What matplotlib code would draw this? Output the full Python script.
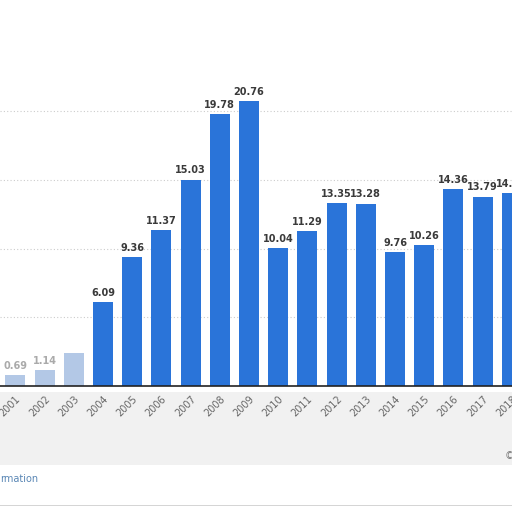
import matplotlib
matplotlib.use("Agg")
import matplotlib.pyplot as plt
from matplotlib.patches import Rectangle

years = ["2001", "2002", "2003", "2004", "2005", "2006", "2007", "2008", "2009",
         "2010", "2011", "2012", "2013", "2014", "2015", "2016", "2017", "2018"]
values = [0.77, 1.14, 2.43, 6.09, 9.36, 11.37, 15.03, 19.78, 20.76,
          10.04, 11.29, 13.35, 13.28, 9.76, 10.26, 14.36, 13.79, 14.05]
labels = ["0.69", "1.14", "", "6.09", "9.36", "11.37", "15.03", "19.78", "20.76",
          "10.04", "11.29", "13.35", "13.28", "9.76", "10.26", "14.36", "13.79", "14.05"]

W = H = 512
fig = plt.figure(figsize=(5.12, 5.12), dpi=100)
fig.patch.set_facecolor("white")

# light grey haze below the axis
fig.patches.append(Rectangle((0, (512 - 465) / 512), 1, (465 - 392) / 512,
                             transform=fig.transFigure, facecolor="#f1f1f1",
                             edgecolor="none", zorder=-2))
fig.patches.append(Rectangle((0, (512 - 506) / 512), 1, 1.5 / 512,
                             transform=fig.transFigure, facecolor="#d5d5d5",
                             edgecolor="none", zorder=-2))

base_px = 386
ax = fig.add_axes([0, (H - base_px) / H, 1, base_px / H])
ax.set_facecolor("none")

px_per_bar = 29.2
first_center = 15.4
ax.set_xlim(-first_center / px_per_bar, (W - first_center) / px_per_bar)
px_per_unit = 13.73
ax.set_ylim(0, base_px / px_per_unit)

x = list(range(len(years)))
colors = ["#b3c8e6", "#b3c8e6", "#b3c8e6"] + ["#2a74d9"] * (len(years) - 3)
ax.bar(x, values, width=20 / px_per_bar, color=colors, zorder=3)

for xi, v, lab in zip(x, values, labels):
    if lab:
        c = "#aaaaaa" if xi < 3 else "#3a3a3a"
        ax.annotate(lab, (xi, v), xytext=(0, 3), textcoords="offset points",
                    ha="center", va="bottom", fontsize=7, fontweight="bold",
                    color=c, zorder=4)

for g in [5, 10, 15, 20]:
    ax.axhline(g, color="#cccccc", linestyle=(0, (1, 2)), linewidth=0.8, zorder=1)

for s in ["top", "right", "left"]:
    ax.spines[s].set_visible(False)
ax.spines["bottom"].set_color("#222222")
ax.spines["bottom"].set_linewidth(1.2)
ax.spines["bottom"].set_zorder(5)

ax.set_yticks([])
ax.set_xticks(x)
ax.set_xticklabels(years, rotation=45, ha="right", rotation_mode="anchor",
                   fontsize=7, color="#666666")
ax.tick_params(axis="x", length=0, pad=6)

fig.text(0, (H - 479) / H, "rmation", fontsize=7, color="#5a87b5",
         ha="left", va="center")
fig.text(505 / W, (H - 456) / H, "©", fontsize=7, color="#777777",
         ha="left", va="center")

fig.savefig("out.png", dpi=100)
